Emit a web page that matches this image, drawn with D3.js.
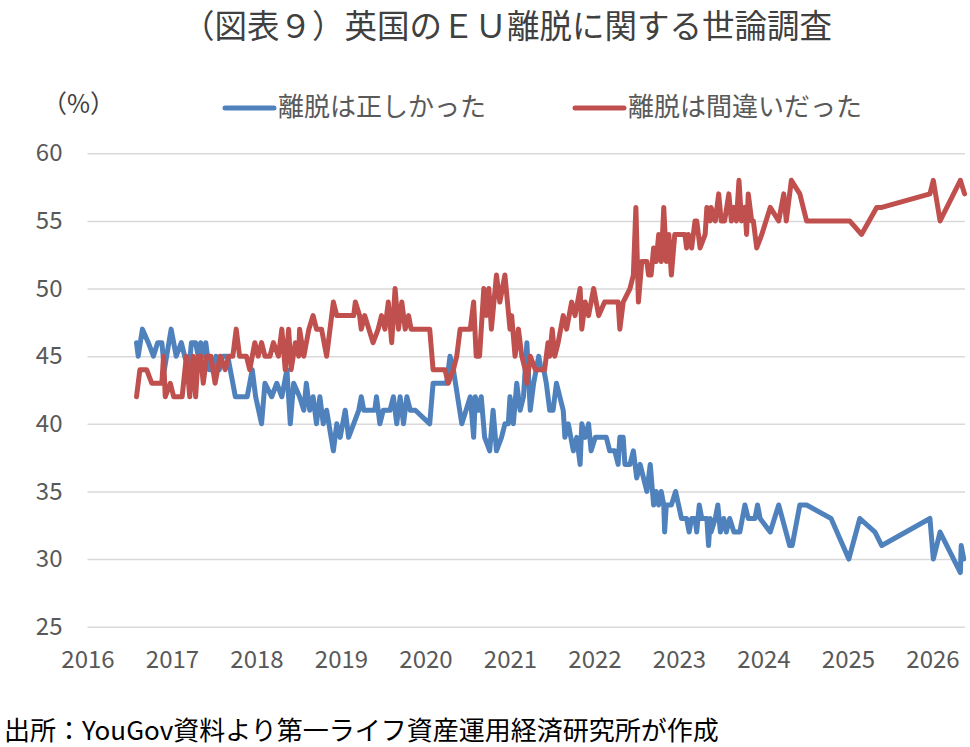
<!DOCTYPE html>
<html>
<head>
<meta charset="utf-8">
<script src="https://cdn.jsdelivr.net/npm/d3@7"></script>
<style>
  body { margin: 0; background: #fff; }
  svg { display: block; font-family: "Noto Sans CJK JP", "Noto Sans", sans-serif; }
</style>
</head>
<body>
<div id="graph"></div>
<script>
// survey dates as decimal years, values in %
const rightDates = [2016.58,2016.60,2016.65,2016.72,2016.78,2016.83,2016.88,2016.91,2016.99,2017.05,2017.11,2017.15,2017.20,2017.23,2017.28,2017.31,2017.34,2017.37,2017.40,2017.44,2017.49,2017.52,2017.56,2017.60,2017.66,2017.75,2017.89,2017.95,2017.99,2018.06,2018.10,2018.18,2018.24,2018.30,2018.36,2018.40,2018.44,2018.51,2018.56,2018.59,2018.63,2018.67,2018.71,2018.75,2018.79,2018.83,2018.91,2018.95,2018.99,2019.05,2019.09,2019.15,2019.21,2019.24,2019.27,2019.40,2019.42,2019.46,2019.50,2019.58,2019.62,2019.66,2019.70,2019.74,2019.78,2019.82,2019.88,2020.05,2020.09,2020.25,2020.29,2020.33,2020.43,2020.53,2020.57,2020.59,2020.63,2020.66,2020.70,2020.76,2020.80,2020.84,2020.90,2020.94,2020.98,2021.00,2021.04,2021.08,2021.12,2021.16,2021.20,2021.24,2021.28,2021.34,2021.37,2021.40,2021.43,2021.47,2021.51,2021.55,2021.59,2021.63,2021.65,2021.69,2021.75,2021.79,2021.83,2021.85,2021.89,2021.93,2021.96,2022.01,2022.07,2022.14,2022.18,2022.24,2022.28,2022.30,2022.34,2022.36,2022.42,2022.46,2022.50,2022.54,2022.58,2022.62,2022.66,2022.70,2022.73,2022.76,2022.79,2022.82,2022.83,2022.85,2022.91,2022.96,2023.03,2023.09,2023.12,2023.15,2023.19,2023.21,2023.24,2023.27,2023.33,2023.35,2023.37,2023.38,2023.43,2023.46,2023.49,2023.53,2023.56,2023.60,2023.65,2023.72,2023.78,2023.82,2023.90,2023.93,2023.96,2024.08,2024.18,2024.31,2024.34,2024.43,2024.51,2024.80,2025.01,2025.14,2025.32,2025.40,2025.97,2026.01,2026.09,2026.33,2026.34,2026.37];
const rightVals = [46,45,47,46,45,46,46,44,47,45,46,45,44,46,46,45,46,45,46,44,44,45,44,45,45,42,42,44,42,40,43,42,43,42,44,40,43,42,41,43,41,42,40,42,40,41,38,40,39,41,39,40,41,42,41,41,42,40,41,41,42,40,42,40,42,41,41,40,43,43,45,44,40,42,39,42,41,42,39,38,41,38,39,40,40,42,40,43,41,42,46,41,43,45,44,44,43,41,41,43,42,41,39,40,38,39,37,40,39,40,38,39,39,39,38,38,37,39,39,37,37,38,36,37,36,35,37,34,35,34,35,34,32,34,34,35,33,33,32,33,33,32,34,33,33,31,33,32,33,34,32,33,32,33,32,32,34,33,33,34,33,32,34,31,31,34,34,33,30,33,32,31,33,30,32,29,31,30];

const wrongDates = [2016.58,2016.62,2016.66,2016.70,2016.76,2016.88,2016.90,2016.92,2016.98,2017.02,2017.12,2017.17,2017.21,2017.25,2017.28,2017.31,2017.34,2017.37,2017.41,2017.46,2017.51,2017.57,2017.63,2017.67,2017.72,2017.76,2017.80,2017.88,2017.92,2017.98,2018.02,2018.06,2018.10,2018.16,2018.20,2018.26,2018.30,2018.34,2018.38,2018.41,2018.46,2018.50,2018.51,2018.56,2018.62,2018.67,2018.71,2018.77,2018.83,2018.87,2018.91,2018.95,2019.15,2019.17,2019.22,2019.24,2019.28,2019.38,2019.44,2019.48,2019.52,2019.56,2019.60,2019.64,2019.68,2019.72,2019.76,2019.80,2019.83,2020.05,2020.09,2020.23,2020.27,2020.33,2020.37,2020.41,2020.53,2020.57,2020.60,2020.64,2020.69,2020.72,2020.75,2020.78,2020.84,2020.88,2020.94,2021.00,2021.02,2021.06,2021.10,2021.14,2021.18,2021.20,2021.24,2021.30,2021.36,2021.41,2021.45,2021.47,2021.50,2021.53,2021.57,2021.63,2021.67,2021.73,2021.77,2021.83,2021.85,2021.89,2021.93,2021.99,2022.05,2022.12,2022.28,2022.30,2022.34,2022.42,2022.46,2022.49,2022.52,2022.56,2022.62,2022.64,2022.67,2022.70,2022.73,2022.76,2022.79,2022.82,2022.85,2022.88,2022.91,2022.95,2023.07,2023.09,2023.11,2023.15,2023.19,2023.21,2023.25,2023.31,2023.33,2023.37,2023.38,2023.43,2023.47,2023.50,2023.54,2023.59,2023.62,2023.65,2023.68,2023.71,2023.74,2023.78,2023.80,2023.82,2023.86,2023.88,2023.92,2023.98,2024.08,2024.18,2024.24,2024.27,2024.33,2024.43,2024.51,2025.02,2025.16,2025.34,2025.40,2025.97,2026.01,2026.09,2026.33,2026.38];
const wrongVals = [42,44,44,44,43,43,45,42,43,42,42,45,42,45,42,45,45,43,45,45,43,45,44,45,45,47,45,45,44,46,45,46,45,45,46,45,47,44,47,44,46,45,47,45,47,48,47,47,45,47,49,48,48,49,48,47,48,46,47,48,47,49,46,50,47,49,47,48,47,47,44,44,43,44,45,47,47,49,45,45,50,48,50,47,51,49,51,47,48,45,47,45,44,43,45,44,44,44,46,45,47,45,46,48,47,49,48,50,47,49,48,50,48,49,49,47,49,50,51,56,49,52,52,51,51,53,52,54,52,56,52,54,51,54,54,53,54,53,55,55,53,54,56,55,56,55,57,55,55,57,55,56,55,58,55,56,54,57,55,55,53,54,56,55,57,55,58,57,55,55,54,56,56,57,58,55,58,57];

const yTicks = [25, 30, 35, 40, 45, 50, 55, 60];
const xTicks = [2016, 2017, 2018, 2019, 2020, 2021, 2022, 2023, 2024, 2025, 2026];
const seriesNames = ["離脱は正しかった", "離脱は間違いだった"];
const seriesColors = ["#4f81bd", "#c0504d"];

const width = 970, height = 747;
const margin = {top: 153.3, right: 5, bottom: 120.3, left: 87.5};
const plotW = width - margin.left - margin.right,
      plotH = height - margin.top - margin.bottom;

const svg = d3.select("#graph").append("svg")
    .attr("width", width)
    .attr("height", height);

// title
svg.append("text")
    .attr("x", 507).attr("y", 27).attr("dy", "0.35em")
    .attr("text-anchor", "middle")
    .style("font-size", "32.5px").style("fill", "#404040")
    .text("（図表９）英国のＥＵ離脱に関する世論調査");

let g = svg.append("g")
    .attr("transform", "translate(" + margin.left + "," + margin.top + ")");

let x = d3.scaleLinear().domain([2016, 2026.385]).range([0, plotW]);
let y = d3.scaleLinear().domain([25, 60]).range([plotH, 0]);

// y gridlines + labels
let yAxis = g.append("g")
    .call(d3.axisLeft(y).tickValues(yTicks).tickSize(-plotW).tickPadding(25));
yAxis.select(".domain").remove();
yAxis.selectAll("line").attr("stroke", "#d9d9d9").attr("stroke-width", 1.5);
yAxis.selectAll("text").style("font-size", "24px").style("fill", "#595959")
    .style("font-family", '"Noto Sans CJK JP", "Noto Sans", sans-serif');

// x labels
let xAxis = g.append("g")
    .attr("transform", "translate(0," + plotH + ")")
    .call(d3.axisBottom(x).tickValues(xTicks).tickFormat(d3.format("d")).tickSize(0).tickPadding(24));
xAxis.select(".domain").remove();
xAxis.selectAll("text").style("font-size", "24px").style("fill", "#595959")
    .style("font-family", '"Noto Sans CJK JP", "Noto Sans", sans-serif');

// lines
let valueline = d3.line()
    .x(d => x(d[0]))
    .y(d => y(d[1]));

let series = [
  d3.zip(rightDates, rightVals),
  d3.zip(wrongDates, wrongVals)
];

series.forEach((data, i) => {
  g.append("path")
    .datum(data)
    .attr("fill", "none")
    .attr("stroke", seriesColors[i])
    .attr("stroke-width", 5)
    .attr("stroke-linejoin", "round")
    .attr("stroke-linecap", "round")
    .attr("d", valueline);
});

// unit label
svg.append("text")
    .attr("x", 42).attr("y", 104).attr("dy", "0.35em")
    .style("font-size", "25px").style("fill", "#404040")
    .text("（%）");

// legend
let legendX = [225, 575];
seriesNames.forEach((name, i) => {
  let lg = svg.append("g").attr("transform", "translate(" + legendX[i] + ",108)");
  lg.append("line")
    .attr("x1", 0).attr("x2", 49).attr("y1", 0).attr("y2", 0)
    .attr("stroke", seriesColors[i]).attr("stroke-width", 5).attr("stroke-linecap", "round");
  lg.append("text")
    .attr("x", 53).attr("y", -1).attr("dy", "0.35em")
    .style("font-size", "26px").style("fill", "#595959")
    .text(name);
});

// source note
svg.append("text")
    .attr("x", 4).attr("y", 731).attr("dy", "0.35em")
    .style("font-size", "26px").style("fill", "#000")
    .text("出所：YouGov資料より第一ライフ資産運用経済研究所が作成");
</script>
</body>
</html>
